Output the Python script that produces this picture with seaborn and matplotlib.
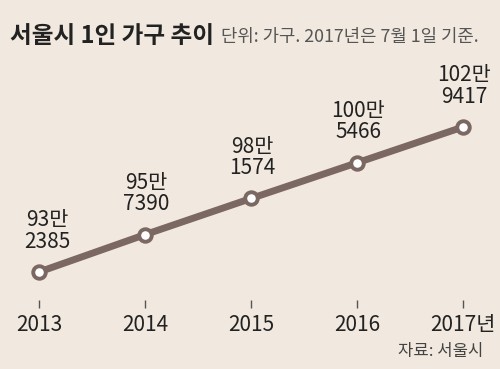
import matplotlib
matplotlib.use('Agg')
import matplotlib.pyplot as plt
import seaborn as sns
import pandas as pd

years = ['2013', '2014', '2015', '2016', '2017년']
households = [932385, 957390, 981574, 1005466, 1029417]
top_labels = ['93만', '95만', '98만', '100만', '102만']
bottom_labels = ['2385', '7390', '1574', '5466', '9417']

bg = '#f1e9df'
line_color = '#7b6862'

sns.set_theme(style='white')
plt.rcParams['font.family'] = ['Liberation Sans Narrow', 'Noto Sans CJK KR', 'DejaVu Sans']

df = pd.DataFrame({'idx': range(len(years)), 'value': households})

fig = plt.figure(figsize=(5, 3.69), dpi=100, facecolor=bg)
H = 369
# axes spans from tick bottom (y=308px) to y=60px
ax = fig.add_axes([39 / 500, (H - 308) / H, 424 / 500, (308 - 60) / H])
ax.set_facecolor(bg)

sns.lineplot(data=df, x='idx', y='value', ax=ax, color=line_color, linewidth=5,
             marker='o', markersize=9, markerfacecolor='white',
             markeredgecolor=line_color, markeredgewidth=2.8, clip_on=False)

per_px = (households[-1] - households[0]) / (272 - 127)
ax.set_ylim(households[0] - (308 - 272) * per_px, households[-1] + (127 - 60) * per_px)
ax.set_xlim(0, 4)

for i, v in enumerate(households):
    dx = 6 if i == 0 else 1
    ax.annotate(top_labels[i] + '\n' + bottom_labels[i], (i, v),
                xytext=(dx, 14), textcoords='offset points', ha='center', va='bottom',
                fontsize=15, color='#222222', linespacing=0.95)

for s in ax.spines.values():
    s.set_visible(False)
ax.set_yticks([])
ax.set_xticks(range(len(years)))
ax.set_xticklabels(years, fontsize=15, color='#222222')
ax.tick_params(axis='x', direction='in', length=6, width=1, color='#555555',
               pad=4, bottom=True)
ax.set_xlabel('')
ax.set_ylabel('')

fig.text(10 / 500, 1 - 43 / H, '서울시 1인 가구 추이', fontsize=17, fontweight='bold',
         family=['Noto Sans CJK KR'], color='#222222', va='baseline')
fig.text(221 / 500, 1 - 42 / H, '단위: 가구. 2017년은 7월 1일 기준.', fontsize=12.8,
         family=['Liberation Sans Narrow', 'Noto Sans CJK KR'], color='#555555', va='baseline')
fig.text(483 / 500, 1 - 356 / H, '자료: 서울시', fontsize=12, ha='right', va='baseline',
         family=['Liberation Sans Narrow', 'Noto Sans CJK KR'], color='#444444')

fig.savefig('out.png', dpi=100, facecolor=bg)
